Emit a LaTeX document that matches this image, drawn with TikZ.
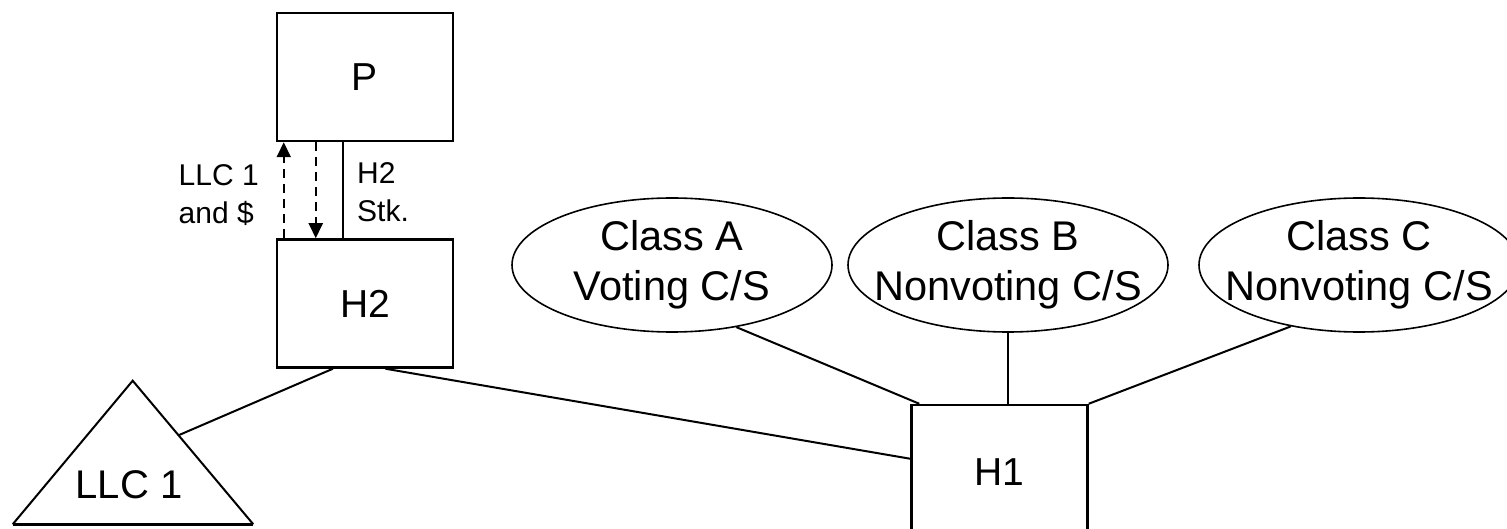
\documentclass[tikz,border=0pt]{standalone}
\usepackage{fontspec}
\setmainfont{Liberation Sans}
\usetikzlibrary{arrows.meta}
\usetikzlibrary{positioning}
\usetikzlibrary{calc}
\usetikzlibrary{shapes.geometric}

\tikzset{
	box/.style={draw, line width=2.5pt, minimum width=176pt, minimum height=128pt, inner sep=0pt, font=\fontsize{39}{46}\selectfont},
	oval/.style={draw, ellipse, line width=1.6pt, minimum width=320pt, minimum height=134pt, inner ysep=0pt, inner xsep=-40pt, align=center, font=\fontsize{41.5}{50}\selectfont},
	lbl/.style={align=left, inner sep=0pt, font=\fontsize{30}{38}\selectfont},
	link/.style={line width=2pt},
	flow/.style={line width=2pt, dash pattern=on 9pt off 6pt, -{Triangle[length=15pt,width=14pt]}}
}

\begin{document}
\begin{tikzpicture}[x=1pt, y=-1pt]
	\useasboundingbox (0,0) rectangle (1507,529);
	
	\node[box](p) at (365,77){P};
	\node[box, below=96pt of p](h2){H2};
	\node[box, minimum height=135pt](h1) at (999.5,472.5){H1};
	
	\node[oval](classa) at (672,265){Class A\\Voting C/S};
	\node[oval](classb) at (1008,265){Class B\\Nonvoting C/S};
	\node[oval](classc) at (1359,265){Class C\\Nonvoting C/S};
	
	\coordinate (apex) at (132.7,380.7);
	\coordinate (baseleft) at (12.7,524.3);
	\coordinate (baseright) at (253.3,524.3);
	\coordinate (llcside) at ($(apex)!0.38!(baseright)$);
	\draw[link] (baseleft) -- (apex) -- (baseright);
	\draw[line width=3pt] (baseleft) -- (baseright);
	\node[inner sep=0pt, font=\fontsize{40}{48}\selectfont](llc) at (129,485){LLC 1};
	
	\node[lbl, anchor=east](cashlbl) at (259,195){LLC 1\\and \$};
	\node[lbl, anchor=west](stklbl) at (357,192){H2\\Stk.};
	
	\draw[flow] ($(h2.north west)+(8,0)$) -- ($(p.south west)+(8,0)$);
	\draw[flow] ($(p.south west)+(40,0)$) -- ($(h2.north west)+(40,0)$);
	\draw[link] ($(p.south west)+(67,0)$) -- ($(h2.north west)+(67,0)$);
	
	\draw[link] ($(h2.south west)!0.32!(h2.south east)$) -- (llcside);
	\draw[link] ($(h2.south west)!0.615!(h2.south east)$) -- ($(h1.north west)!0.4!(h1.south west)$);
	\draw[link] (classa.-44) -- ($(h1.north west)+(9,0)$);
	\draw[link] (classb.south) -- (classb.south |- h1.north);
	\draw[link] (classc.-138) -- (h1.north east);
\end{tikzpicture}
\end{document}
